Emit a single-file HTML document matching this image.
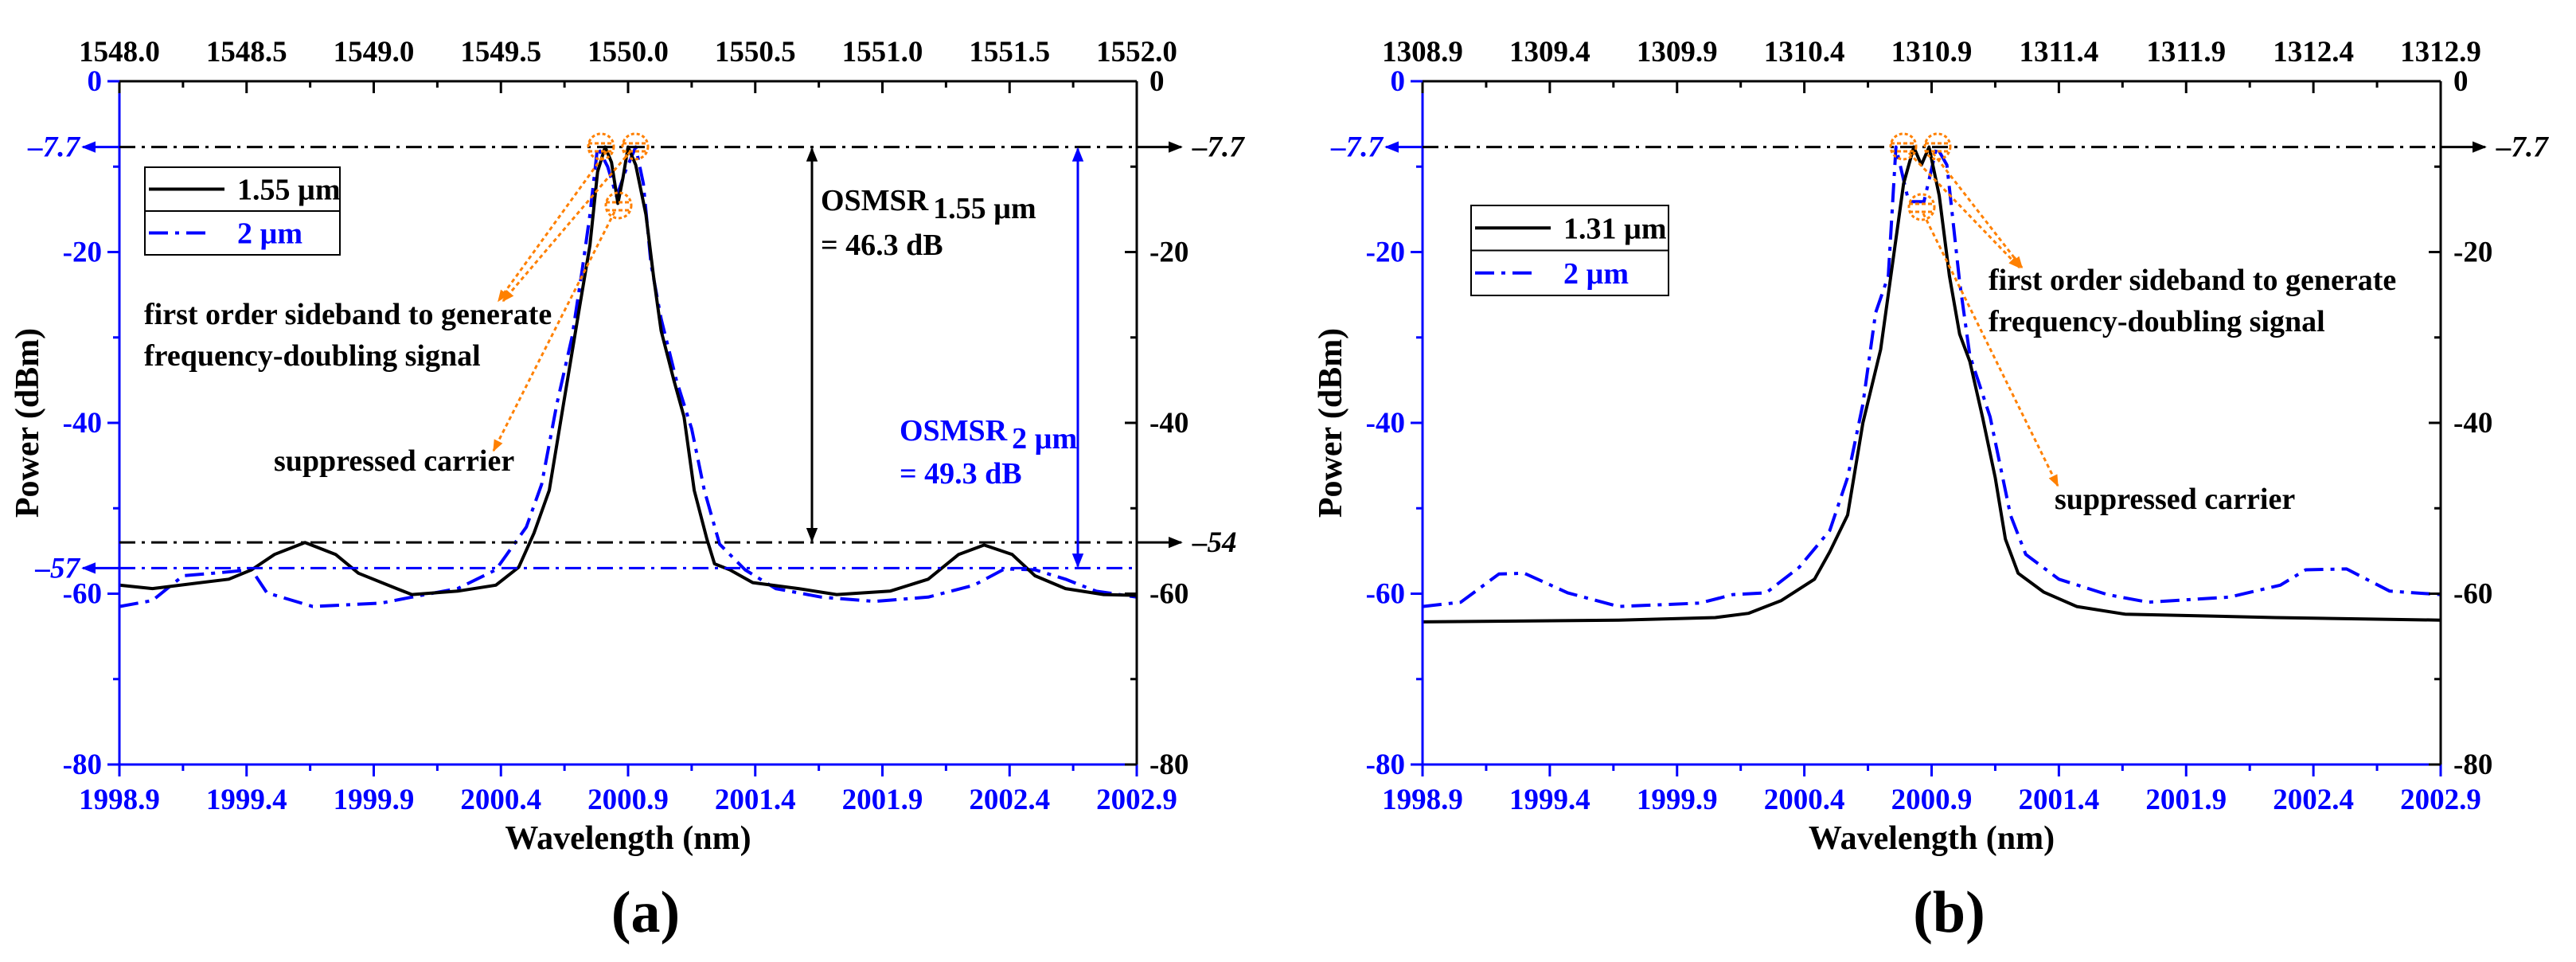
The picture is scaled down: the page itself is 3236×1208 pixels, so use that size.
<!DOCTYPE html>
<html><head><meta charset="utf-8">
<style>
html,body{margin:0;padding:0;background:#fff;}
svg{display:block;}
svg text{font-family:"Liberation Serif","Times New Roman",serif;font-weight:bold;}
</style></head>
<body>
<svg id="fig" width="3236" height="1208" viewBox="0 0 3236 1208" xmlns="http://www.w3.org/2000/svg" font-family="Liberation Serif, serif" font-weight="bold">
<defs>
<marker id="arrK" viewBox="0 0 10 10" refX="9" refY="5" markerWidth="6" markerHeight="6" orient="auto-start-reverse"><path d="M0,1 L10,5 L0,9 z" fill="#000"/></marker>
<marker id="arrB" viewBox="0 0 10 10" refX="9" refY="5" markerWidth="6" markerHeight="6" orient="auto-start-reverse"><path d="M0,1 L10,5 L0,9 z" fill="#00f"/></marker>
<marker id="arrO" viewBox="0 0 10 10" refX="9" refY="5" markerWidth="5" markerHeight="5" orient="auto"><path d="M0,1 L10,5 L0,9 z" fill="#ff8000"/></marker>
</defs>
</svg>
<script>
// ---- data (panel a) ----
const aBlackX = [1998.9,1999.03,1999.33,1999.42,1999.51,1999.63,1999.75,1999.84,1999.99,2000.05,2000.23,2000.38,2000.47,2000.53,2000.59,2000.65,2000.71,2000.75,2000.78,2000.81,2000.835,2000.86,2000.88,2000.90,2000.93,2000.97,2001.00,2001.03,2001.08,2001.12,2001.16,2001.21,2001.24,2001.30,2001.39,2001.57,2001.72,2001.93,2002.08,2002.20,2002.30,2002.41,2002.50,2002.62,2002.77,2002.9];
const aBlackY = [-59.0,-59.4,-58.3,-57.2,-55.4,-54.0,-55.4,-57.6,-59.4,-60.1,-59.7,-59.0,-56.9,-52.9,-47.9,-37.1,-26.3,-19.2,-10.6,-7.7,-9.5,-14.3,-11.3,-7.7,-9.8,-15.6,-22.8,-29.2,-35.0,-39.3,-47.9,-53.6,-56.5,-57.2,-58.7,-59.4,-60.1,-59.7,-58.3,-55.4,-54.3,-55.4,-57.9,-59.4,-60.1,-60.2];
const aBlueX = [1998.9,1999.03,1999.15,1999.27,1999.42,1999.48,1999.66,1999.93,2000.05,2000.23,2000.38,2000.50,2000.56,2000.62,2000.68,2000.72,2000.75,2000.78,2000.82,2000.855,2000.89,2000.93,2000.96,2000.99,2001.03,2001.09,2001.15,2001.20,2001.26,2001.36,2001.48,2001.66,2001.87,2002.08,2002.26,2002.38,2002.50,2002.62,2002.74,2002.9];
const aBlueY = [-61.5,-60.8,-57.9,-57.6,-57.2,-59.9,-61.5,-61.1,-60.4,-59.4,-57.2,-52.2,-47.2,-37.8,-29.9,-22.0,-15.6,-7.7,-10.0,-13.5,-10.5,-7.7,-12.0,-21.4,-27.8,-35.0,-40.7,-47.9,-54.2,-57.2,-59.4,-60.4,-60.9,-60.4,-59.0,-57.1,-57.2,-58.3,-59.7,-60.4];
// ---- data (panel b) ----
const bBlackX = [1998.9,1999.67,2000.05,2000.18,2000.31,2000.44,2000.50,2000.57,2000.63,2000.70,2000.74,2000.79,2000.83,2000.86,2000.89,2000.93,2000.97,2001.01,2001.05,2001.10,2001.15,2001.19,2001.24,2001.34,2001.47,2001.66,2002.25,2002.9];
const bBlackY = [-63.3,-63.1,-62.8,-62.3,-60.8,-58.3,-55.1,-50.8,-40.0,-31.4,-22.8,-12.0,-7.7,-9.8,-7.7,-13.4,-22.8,-29.6,-32.8,-39.3,-46.4,-53.6,-57.6,-59.8,-61.5,-62.4,-62.8,-63.1];
const bBlueX = [1998.9,1999.05,1999.20,1999.30,1999.47,1999.67,1999.99,2000.12,2000.25,2000.38,2000.50,2000.57,2000.63,2000.68,2000.73,2000.76,2000.81,2000.87,2000.92,2000.96,2001.01,2001.05,2001.13,2001.21,2001.27,2001.40,2001.59,2001.75,2002.07,2002.27,2002.37,2002.53,2002.70,2002.9];
const bBlueY = [-61.5,-61.0,-57.7,-57.6,-59.9,-61.5,-61.1,-60.1,-59.9,-56.9,-52.6,-46.4,-37.8,-27.1,-22.8,-7.7,-14.1,-14.1,-7.7,-9.8,-23.5,-32.1,-39.3,-50.8,-55.4,-58.3,-60.1,-61.0,-60.4,-59.0,-57.2,-57.1,-59.7,-60.1];
const bottomTicks = ["1998.9","1999.4","1999.9","2000.4","2000.9","2001.4","2001.9","2002.4","2002.9"];
const topTicksA = ["1548.0","1548.5","1549.0","1549.5","1550.0","1550.5","1551.0","1551.5","1552.0"];
const topTicksB = ["1308.9","1309.4","1309.9","1310.4","1310.9","1311.4","1311.9","1312.4","1312.9"];
const yTicks = [0,-20,-40,-60,-80];

const NS = "http://www.w3.org/2000/svg";
const svg = document.getElementById('fig');
function mk(tag, attrs, parent, text){
  const e = document.createElementNS(NS, tag);
  for (const k in attrs) e.setAttribute(k, attrs[k]);
  if (tag === 'text') e.setAttribute('font-family', 'Liberation Serif, serif');
  if (text !== undefined) e.textContent = text;
  (parent || svg).appendChild(e);
  return e;
}

function panel(P){
  const g = mk('g', {});
  
  
  const L=P.left, R=P.right, T=102, B=960;
  const xs = v => L + (v - 1998.9) / 4 * (R - L);
  const ys = v => T + (-v) / 80 * (B - T);

  function series(X, Y, color, dash, nm){
    let d = '';
    for (let i=0;i<X.length;i++) d += (i?'L':'M') + xs(X[i]).toFixed(1) + ',' + ys(Y[i]).toFixed(1);
    const p = mk('path', {d:d, fill:'none', stroke:color, 'stroke-width':4, 'stroke-linejoin':'round', 'stroke-dasharray':dash||'none'}, g);
    
    
  }
  series(P.blueX, P.blueY, '#00f', '24,9,5,9', 'series-2um');
  series(P.blackX, P.blackY, '#000', null, P.blackName);

  const ax = (x1,y1,x2,y2,c,nm) => { const l = mk('line',{x1:x1,y1:y1,x2:x2,y2:y2,stroke:c,'stroke-width':3},g);   };
  ax(L,T,R,T,'#000','top-axis');
  ax(R,T,R,B,'#000','right-axis');
  ax(L,T,L,B+15,'#00f','left-axis');
  ax(L-15,B,R,B,'#00f','bottom-axis');

  for (let i=0;i<=16;i++){
    const x = L + i/16*(R-L), major = i%2===0;
    mk('line',{x1:x,y1:B,x2:x,y2:B+(major?15:8),stroke:'#00f','stroke-width':3},g);
    mk('line',{x1:x,y1:T,x2:x,y2:T+(major?15:8),stroke:'#000','stroke-width':3},g);
  }
  bottomTicks.forEach((t,i)=>{
    const e = mk('text',{x:xs(1998.9+i*0.5),y:1016,'text-anchor':'middle','font-size':37,fill:'#00f'},g,t);
     
  });
  P.top.forEach((t,i)=>{
    const e = mk('text',{x:xs(1998.9+i*0.5),y:77,'text-anchor':'middle','font-size':37,fill:'#000'},g,t);
     
  });
  for (let v=0; v>=-80; v-=10){
    const y = ys(v), major = v%20===0;
    mk('line',{x1:L-(major?15:8),y1:y,x2:L,y2:y,stroke:'#00f','stroke-width':3},g);
    mk('line',{x1:R-(major?15:8),y1:y,x2:R,y2:y,stroke:'#000','stroke-width':3},g);
  }
  yTicks.forEach(v=>{
    const e1 = mk('text',{x:L-22,y:ys(v)+12,'text-anchor':'end','font-size':37,fill:'#00f'},g,String(v));
     
    const e2 = mk('text',{x:R+16,y:ys(v)+12,'text-anchor':'start','font-size':37,fill:'#000'},g,String(v));
     
  });
  const xt = mk('text',{x:(L+R)/2,y:1066,'text-anchor':'middle','font-size':42,fill:'#000'},g,'Wavelength (nm)');
   
  const yt = mk('text',{x:0,y:0,transform:`translate(${L-102},${(T+B)/2}) rotate(-90)`,'text-anchor':'middle','font-size':42,fill:'#000'},g,'Power (dBm)');
   
  const pl = mk('text',{x:(L+R)/2+22,y:1170,'text-anchor':'middle','font-size':74,'font-weight':'normal',fill:'#000'},g,'');
   
  mk('tspan',{},pl,'(');
  mk('tspan',{'font-weight':'bold'},pl,P.letter);
  mk('tspan',{},pl,')');

  const hl = (v,c,nm,x2) => { const l = mk('line',{x1:L,y1:ys(v),x2:x2||R,y2:ys(v),stroke:c,'stroke-width':3,'stroke-dasharray':'20,8,4,8'},g);   };
  hl(-7.7,'#000','peak-reference-line');
  const arr = (x1,y1,x2,y2,c,m,nm) => { const l = mk('line',{x1:x1,y1:y1,x2:x2,y2:y2,stroke:c,'stroke-width':3,'marker-end':`url(#${m})`},g);   };
  arr(R,ys(-7.7),R+56,ys(-7.7),'#000','arrK','right-peak-arrow');
  arr(L,ys(-7.7),L-46,ys(-7.7),'#00f','arrB','left-peak-arrow');
  mk('text',{x:R+70,y:ys(-7.7)+12,'font-size':37,'font-style':'italic',fill:'#000'},g,'\u20137.7');
  mk('text',{x:L-50,y:ys(-7.7)+12,'text-anchor':'end','font-size':37,'font-style':'italic',fill:'#00f'},g,'\u20137.7');

  const lg = mk('g',{},g);
   
  const lx=P.leg[0], ly=P.leg[1], lw=P.leg[2], lh=P.leg[3];
  mk('rect',{x:lx,y:ly,width:lw,height:lh,fill:'#fff',stroke:'#000','stroke-width':2},lg);
  mk('line',{x1:lx,y1:ly+lh/2,x2:lx+lw,y2:ly+lh/2,stroke:'#000','stroke-width':2},lg);
  mk('line',{x1:lx+5,y1:ly+lh/4,x2:lx+100,y2:ly+lh/4,stroke:'#000','stroke-width':4},lg);
  mk('line',{x1:lx+5,y1:ly+3*lh/4,x2:lx+80,y2:ly+3*lh/4,stroke:'#00f','stroke-width':4,'stroke-dasharray':'24,9,5,9'},lg);
  const le1 = mk('text',{x:lx+116,y:ly+lh/4+13,'font-size':38,fill:'#000'},lg,P.blackLabel);
   
  const le2 = mk('text',{x:lx+116,y:ly+3*lh/4+13,'font-size':38,fill:'#00f'},lg,'2 \u00b5m');
   

  P.circles.forEach(c=>{
    const cg = mk('g',{},g);
     
    mk('circle',{cx:c[0],cy:c[1],r:16,fill:'none',stroke:'#ff8000','stroke-width':3,'stroke-dasharray':'4,3'},cg);
    mk('line',{x1:c[0]-16,y1:c[1]-4,x2:c[0]+16,y2:c[1]-4,stroke:'#ff8000','stroke-width':3,'stroke-dasharray':'5,3'},cg);
    mk('line',{x1:c[0]-16,y1:c[1]+6,x2:c[0]+16,y2:c[1]+6,stroke:'#ff8000','stroke-width':3,'stroke-dasharray':'5,3'},cg);
  });
  P.pointers.forEach(p=>{
    const l = mk('line',{x1:p[0],y1:p[1],x2:p[2],y2:p[3],stroke:'#ff8000','stroke-width':3,'stroke-dasharray':'5,4','marker-end':'url(#arrO)'},g);
     
  });
  P.notes.forEach(n=>{
    const t = mk('text',{x:n[0],y:n[1],'font-size':38,fill:n[3]||'#000'},g,n[2]);
     
  });
  return {g, xs, ys, L, R, hl, arr};
}

const A = panel({name:'panel-a', left:150, right:1428, letter:'a', top:topTicksA,
  blackX:aBlackX, blackY:aBlackY, blueX:aBlueX, blueY:aBlueY, blackName:'series-1-55um', blackLabel:'1.55 \u00b5m',
  leg:[182,210,245,110],
  circles:[[755,184],[798,184],[777,258]],
  pointers:[[762,190,626,378],[792,190,632,378],[772,266,620,566]],
  notes:[[181,407,'first order sideband to generate'],[181,459,'frequency-doubling signal'],[344,591,'suppressed carrier'],[1031,320,'= 46.3 dB'],[1130,607,'= 49.3 dB','#00f']]
});
A.hl(-54,'#000','osmsr-1-55-floor-line');
A.hl(-57,'#00f','osmsr-2um-floor-line');
A.arr(A.R,A.ys(-54),A.R+56,A.ys(-54),'#000','arrK','right-floor-arrow');
A.arr(A.L,A.ys(-57),A.L-46,A.ys(-57),'#00f','arrB','left-floor-arrow');
mk('text',{x:A.R+70,y:A.ys(-54)+12,'font-size':37,'font-style':'italic',fill:'#000'},A.g,'\u201354');
mk('text',{x:A.L-50,y:A.ys(-57)+12,'text-anchor':'end','font-size':37,'font-style':'italic',fill:'#00f'},A.g,'\u201357');
(function(){
  const a1 = mk('line',{x1:1020,y1:A.ys(-7.7)+2,x2:1020,y2:A.ys(-54)-2,stroke:'#000','stroke-width':3,'marker-start':'url(#arrK)','marker-end':'url(#arrK)'},A.g);
   
  const a2 = mk('line',{x1:1354,y1:A.ys(-7.7)+2,x2:1354,y2:A.ys(-57)-2,stroke:'#00f','stroke-width':3,'marker-start':'url(#arrB)','marker-end':'url(#arrB)'},A.g);
   
  const t1 = mk('text',{x:1031,y:264,'font-size':38,fill:'#000'},A.g,'OSMSR');
   
  mk('tspan',{dx:6,dy:10},t1,'1.55 \u00b5m');
  const t2 = mk('text',{x:1130,y:553,'font-size':38,fill:'#00f'},A.g,'OSMSR');
   
  mk('tspan',{dx:6,dy:10},t2,'2 \u00b5m');
})();

panel({name:'panel-b', left:1787, right:3066, letter:'b', top:topTicksB,
  blackX:bBlackX, blackY:bBlackY, blueX:bBlueX, blueY:bBlueY, blackName:'series-1-31um', blackLabel:'1.31 \u00b5m',
  leg:[1848,258,248,113],
  circles:[[2391,184],[2434,184],[2414,260]],
  pointers:[[2398,192,2537,336],[2428,192,2540,336],[2416,268,2585,610]],
  notes:[[2498,364,'first order sideband to generate'],[2498,416,'frequency-doubling signal'],[2581,639,'suppressed carrier']]
});
</script>
</body></html>
